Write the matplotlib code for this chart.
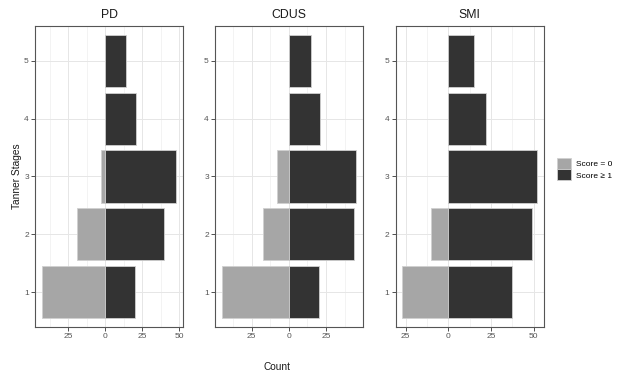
import numpy as np
import matplotlib
matplotlib.use("Agg")
import matplotlib.pyplot as plt
from matplotlib.patches import Patch
from matplotlib.ticker import FixedLocator, FuncFormatter, MultipleLocator

plt.rcParams["font.family"] = ["Liberation Sans", "DejaVu Sans"]

# data
stages = [1, 2, 3, 4, 5]
panels = ["PD", "CDUS", "SMI"]
pd_zero = [43, 19, 3, 0, 0]
pd_pos = [20, 40, 48, 21, 14]
cdus_zero = [45, 17, 8, 0, 0]
cdus_pos = [20, 44, 45, 21, 15]
smi_zero = [27, 10, 0, 0, 0]
smi_pos = [37, 49, 52, 22, 15]
legend_labels = ["Score = 0", "Score \u2265 1"]

zero_vals = [pd_zero, cdus_zero, smi_zero]
pos_vals = [pd_pos, cdus_pos, smi_pos]

col_zero = "#a6a6a6"
col_pos = "#333333"
edge = "#d0d0d0"

fig = plt.figure(figsize=(6.19, 3.76), dpi=100)
W, H = 619, 376
lefts = [35, 215, 395.5]
rights = [183, 362.5, 544]
top, bottom = 26, 327

for i, name in enumerate(panels):
    ax = fig.add_axes([lefts[i] / W, 1 - bottom / H,
                       (rights[i] - lefts[i]) / W, (bottom - top) / H])
    z = -np.array(zero_vals[i], dtype=float)
    p = np.array(pos_vals[i], dtype=float)
    ax.barh(stages, z, height=0.9, color=col_zero, edgecolor=edge,
            linewidth=0.6, zorder=3)
    ax.barh(stages, p, height=0.9, color=col_pos, edgecolor=edge,
            linewidth=0.6, zorder=3)
    lo, hi = min(z.min(), 0), max(p.max(), 0)
    pad = (hi - lo) * 0.05
    ax.set_xlim(lo - pad, hi + pad)
    ax.set_ylim(0.4, 5.6)
    ax.xaxis.set_major_locator(MultipleLocator(25))
    ax.xaxis.set_minor_locator(MultipleLocator(12.5))
    ax.xaxis.set_major_formatter(FuncFormatter(lambda v, _: f"{abs(v):g}"))
    ax.yaxis.set_major_locator(FixedLocator(stages))
    ax.grid(which="minor", axis="x", color="#efefef", linewidth=0.5, zorder=0)
    ax.grid(which="major", color="#e6e6e6", linewidth=0.7, zorder=0)
    ax.set_axisbelow(True)
    ax.tick_params(which="major", length=2.9, width=0.6, color="#333333",
                   labelsize=6, labelcolor="#555555", pad=1.5)
    ax.tick_params(which="minor", length=0)
    for s in ax.spines.values():
        s.set_color("#555555")
        s.set_linewidth(0.8)
    ax.set_title(name, fontsize=8.8, color="#1a1a1a", pad=5.5)

fig.text(17 / W, 1 - 176.5 / H, "Tanner Stages", rotation=90,
         ha="center", va="center", fontsize=7.3, color="#1a1a1a")
fig.text(277 / W, 1 - 366.5 / H, "Count", ha="center", va="center",
         fontsize=7.3, color="#1a1a1a")

handles = [Patch(facecolor=col_zero, edgecolor=edge, linewidth=0.6),
           Patch(facecolor=col_pos, edgecolor=edge, linewidth=0.6)]
fig.legend(handles, legend_labels, loc="center left",
           bbox_to_anchor=(557 / W, 1 - 169 / H), frameon=False,
           fontsize=6, handlelength=1.7, handleheight=1.7,
           handletextpad=0.6, labelspacing=0.05, borderpad=0,
           borderaxespad=0)

fig.savefig("out.png", dpi=100)
